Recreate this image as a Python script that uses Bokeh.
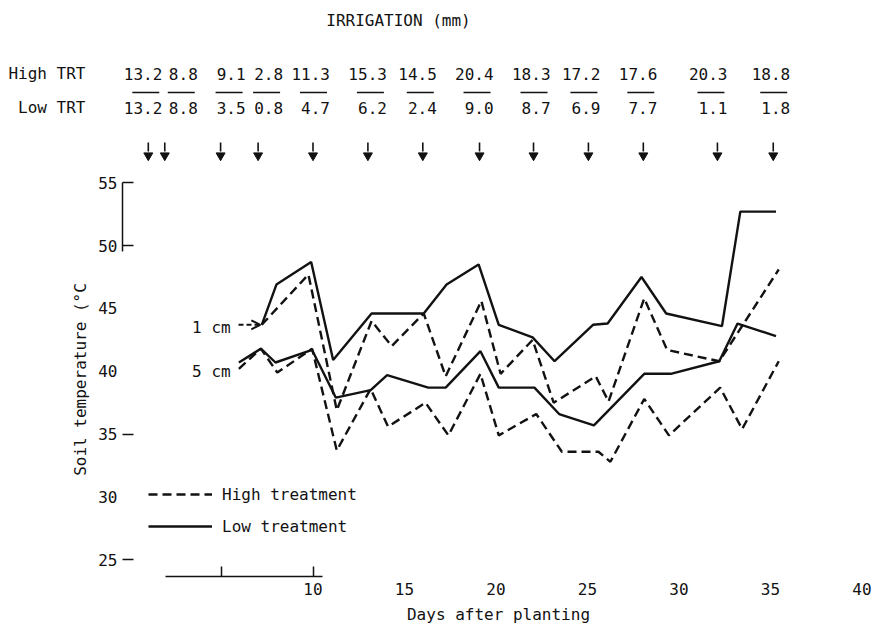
from bokeh.plotting import figure
from bokeh.models import (Range1d, LinearAxis, FixedTicker, Legend, LegendItem,
                          Arrow, OpenHead)
from bokeh.layouts import column
from bokeh.embed import file_html
from bokeh.resources import INLINE
from bokeh.core.properties import value

# ---------------- data ----------------
irrig_days = [1.0, 1.9, 4.95, 7.0, 10.0, 13.0, 16.0, 19.1, 22.05, 25.05, 28.05, 32.1, 35.15]
irrig_high = [13.2, 8.8, 9.1, 2.8, 11.3, 15.3, 14.5, 20.4, 18.3, 17.2, 17.6, 20.3, 18.8]
irrig_low = [13.2, 8.8, 3.5, 0.8, 4.7, 6.2, 2.4, 9.0, 8.7, 6.9, 7.7, 1.1, 1.8]

cm1_low_days = [7.2, 8.0, 9.9, 11.1, 13.2, 16.05, 17.3, 19.05, 20.15, 22.0, 23.2, 25.3, 26.1, 27.95, 29.3, 32.35, 33.35, 35.3]
cm1_low_temp = [43.7, 46.9, 48.7, 40.9, 44.6, 44.6, 46.9, 48.5, 43.7, 42.7, 40.8, 43.7, 43.8, 47.5, 44.6, 43.6, 52.7, 52.7]

cm1_high_days = [7.2, 9.75, 11.3, 13.2, 14.3, 16.05, 17.25, 19.2, 20.25, 22.0, 23.15, 25.45, 26.15, 28.1, 29.35, 32.2, 35.45]
cm1_high_temp = [43.7, 47.7, 36.9, 44.0, 42.0, 44.6, 39.6, 45.6, 39.8, 42.5, 37.5, 39.6, 37.6, 45.8, 41.7, 40.8, 48.1]

cm5_low_days = [5.95, 7.15, 7.95, 9.95, 11.25, 13.15, 14.05, 16.3, 17.25, 19.15, 20.15, 22.1, 23.45, 25.35, 28.1, 29.55, 32.2, 33.2, 35.3]
cm5_low_temp = [40.7, 41.8, 40.7, 41.7, 37.9, 38.5, 39.7, 38.7, 38.7, 41.6, 38.7, 38.7, 36.6, 35.7, 39.8, 39.8, 40.8, 43.8, 42.8]

cm5_high_days = [5.95, 7.15, 8.05, 9.95, 11.3, 13.15, 14.1, 16.15, 17.4, 19.15, 20.15, 22.2, 23.6, 25.6, 26.25, 28.1, 29.45, 32.25, 33.45, 35.45]
cm5_high_temp = [40.2, 41.8, 39.9, 41.8, 33.7, 38.6, 35.6, 37.5, 34.9, 39.8, 34.9, 36.6, 33.6, 33.6, 32.8, 37.8, 34.9, 38.7, 35.4, 40.8]

x_ticks = [10, 15, 20, 25, 30, 35, 40]
y_ticks = [25, 30, 35, 40, 45, 50, 55]
row_labels = ["High TRT", "Low TRT"]

# ---------------- layout / style ----------------
FONT = "DejaVu Sans Mono"
FS = "16px"
INK = "#121212"
W = 879
H_HEAD = 165
H_MAIN = 462
LEFT, RIGHT, TOP, BOTTOM = 122, 5, 17, 51
PX_PER_DAY = 18.3
PX_PER_DEG = 12.57
FRAME_W = W - LEFT - RIGHT
FRAME_H = H_MAIN - TOP - BOTTOM
X0 = -0.41
X1 = X0 + FRAME_W / PX_PER_DAY
Y1 = 55.02
Y0 = Y1 - FRAME_H / PX_PER_DEG
DASH = "9 5"
LW = 2.4

# header rows (pixel rows of the header panel)
Y_TITLE, Y_HIGH, Y_RULE, Y_LOW = 20, 73, 92, 107
Y_ARROW0, Y_ARROW1, Y_HEAD = 142, 151, 155
# right-edge offsets (px) of the irrigation amounts relative to their arrow
label_nudge = [14, 33, 25, 25, 17, 19, 14, 14, 17, 12, 14, 10, 17]

txt = dict(text_font=value(FONT), text_font_size=FS, text_color=INK, text_baseline="middle")


def style_axis(ax):
    ax.major_label_text_font = FONT
    ax.major_label_text_font_size = FS
    ax.major_label_text_color = INK
    ax.axis_label_text_font = FONT
    ax.axis_label_text_font_size = FS
    ax.axis_label_text_font_style = "normal"
    ax.axis_label_text_color = INK
    ax.minor_tick_line_color = None


def line_only(ax, tick_len, show_line=True, show_ticks=True):
    # axis piece that shows only its line and/or inward ticks, no labels
    style_axis(ax)
    ax.major_tick_in = tick_len
    ax.major_tick_out = 0
    ax.major_label_text_font_size = "0px"
    ax.major_label_text_color = None
    ax.major_label_standoff = 0
    ax.axis_line_color = INK if show_line else None
    ax.axis_line_width = 1.5
    ax.major_tick_line_color = INK if show_ticks else None
    ax.major_tick_line_width = 1.5


def labels_only(ax, standoff):
    style_axis(ax)
    ax.axis_line_color = None
    ax.major_tick_line_color = None
    ax.major_tick_in = 0
    ax.major_tick_out = 0
    ax.major_label_standoff = standoff


# ---------------- header figure (irrigation amounts) ----------------
hp = figure(width=W, height=H_HEAD, x_range=Range1d(X0, X1), y_range=Range1d(H_HEAD, 0),
            x_axis_location=None, y_axis_location=None,
            min_border_left=LEFT, min_border_right=RIGHT, min_border_top=0, min_border_bottom=0,
            output_backend="svg", toolbar_location=None, title=None)
hp.outline_line_color = None
hp.grid.visible = False

ax_rows = LinearAxis(ticker=FixedTicker(ticks=[Y_HIGH, Y_LOW]),
                     major_label_overrides={Y_HIGH: row_labels[0], Y_LOW: row_labels[1]})
labels_only(ax_rows, 37)
hp.add_layout(ax_rows, "left")

hp.text(x=[X0], y=[Y_TITLE], text=["IRRIGATION (mm)"], x_offset=[276], text_align="center", **txt)

n = len(irrig_days)
hp.text(x=irrig_days, y=[Y_HIGH] * n, text=[f"{v:.1f}" for v in irrig_high],
        x_offset=label_nudge, text_align="right", **txt)
hp.text(x=irrig_days, y=[Y_LOW] * n, text=[f"{v:.1f}" for v in irrig_low],
        x_offset=label_nudge, text_align="right", **txt)

ul_x0 = [d + (k - 30) / PX_PER_DAY for d, k in zip(irrig_days, label_nudge)]
ul_x1 = [d + (k - 3) / PX_PER_DAY for d, k in zip(irrig_days, label_nudge)]
hp.segment(x0=ul_x0, x1=ul_x1, y0=[Y_RULE] * n, y1=[Y_RULE] * n, line_color=INK, line_width=1.3)

hp.segment(x0=irrig_days, x1=irrig_days, y0=[Y_ARROW0] * n, y1=[Y_ARROW1] * n,
           line_color=INK, line_width=1.6)
hp.scatter(x=irrig_days, y=[Y_HEAD] * n, marker="inverted_triangle", size=9,
           fill_color=INK, line_color=INK)

# ---------------- main figure ----------------
p = figure(width=W, height=H_MAIN, x_range=Range1d(X0, X1), y_range=Range1d(Y0, Y1),
           x_axis_location=None, y_axis_location=None,
           min_border_left=LEFT, min_border_right=RIGHT, min_border_top=TOP,
           min_border_bottom=BOTTOM, output_backend="svg", toolbar_location=None, title=None)
p.outline_line_color = None
p.grid.visible = False

# inward ticks of the y axis (no line)
ax_t = LinearAxis(ticker=FixedTicker(ticks=[25, 35, 50, 55]))
line_only(ax_t, 11, show_line=False)
p.add_layout(ax_t, "left")

# short stretch of y-axis line at the top
ax_a = LinearAxis(ticker=FixedTicker(ticks=[55]), bounds=(49.5, 55))
line_only(ax_a, 0, show_ticks=False)
p.add_layout(ax_a, "left")

ax_b = LinearAxis(ticker=FixedTicker(ticks=y_ticks), axis_label="Soil temperature (°C")
labels_only(ax_b, 5)
ax_b.axis_label_standoff = 5
p.add_layout(ax_b, "left")

ax_1 = LinearAxis(ticker=FixedTicker(ticks=[5, 10]), bounds=(1.95, 10.5))
line_only(ax_1, 10)
p.add_layout(ax_1, "below")

ax_2 = LinearAxis(ticker=FixedTicker(ticks=x_ticks), axis_label="Days after planting")
labels_only(ax_2, 6)
ax_2.axis_label_standoff = 7
p.add_layout(ax_2, "below")

r_1l = p.line(cm1_low_days, cm1_low_temp, line_color=INK, line_width=LW)
r_1h = p.line(cm1_high_days, cm1_high_temp, line_color=INK, line_width=LW, line_dash=DASH)
r_5l = p.line(cm5_low_days, cm5_low_temp, line_color=INK, line_width=LW)
r_5h = p.line(cm5_high_days, cm5_high_temp, line_color=INK, line_width=LW, line_dash=DASH)

p.text(x=[5.5, 5.5], y=[43.5, 40.0], text=["1 cm", "5 cm"], text_align="right", **txt)
p.add_layout(Arrow(end=OpenHead(size=9, line_width=2, line_color=INK),
                   x_start=cm1_high_days[0] - 1.27, y_start=cm1_high_temp[0],
                   x_end=cm1_high_days[0] - 0.08, y_end=cm1_high_temp[0],
                   line_color=INK, line_width=2, line_dash="5 3"))

legend = Legend(items=[LegendItem(label="High treatment", renderers=[r_1h]),
                       LegendItem(label="Low treatment", renderers=[r_1l])],
                location=(26, 40))
legend.label_text_font = FONT
legend.label_text_font_size = FS
legend.label_text_color = INK
legend.glyph_width = 64
legend.glyph_height = 20
legend.label_height = 20
legend.spacing = 12
legend.padding = 0
legend.margin = 0
legend.label_standoff = 10
legend.border_line_color = None
legend.background_fill_alpha = 0
p.add_layout(legend)

layout = column(hp, p, spacing=0)
open("out.html", "w").write(file_html(layout, INLINE))
